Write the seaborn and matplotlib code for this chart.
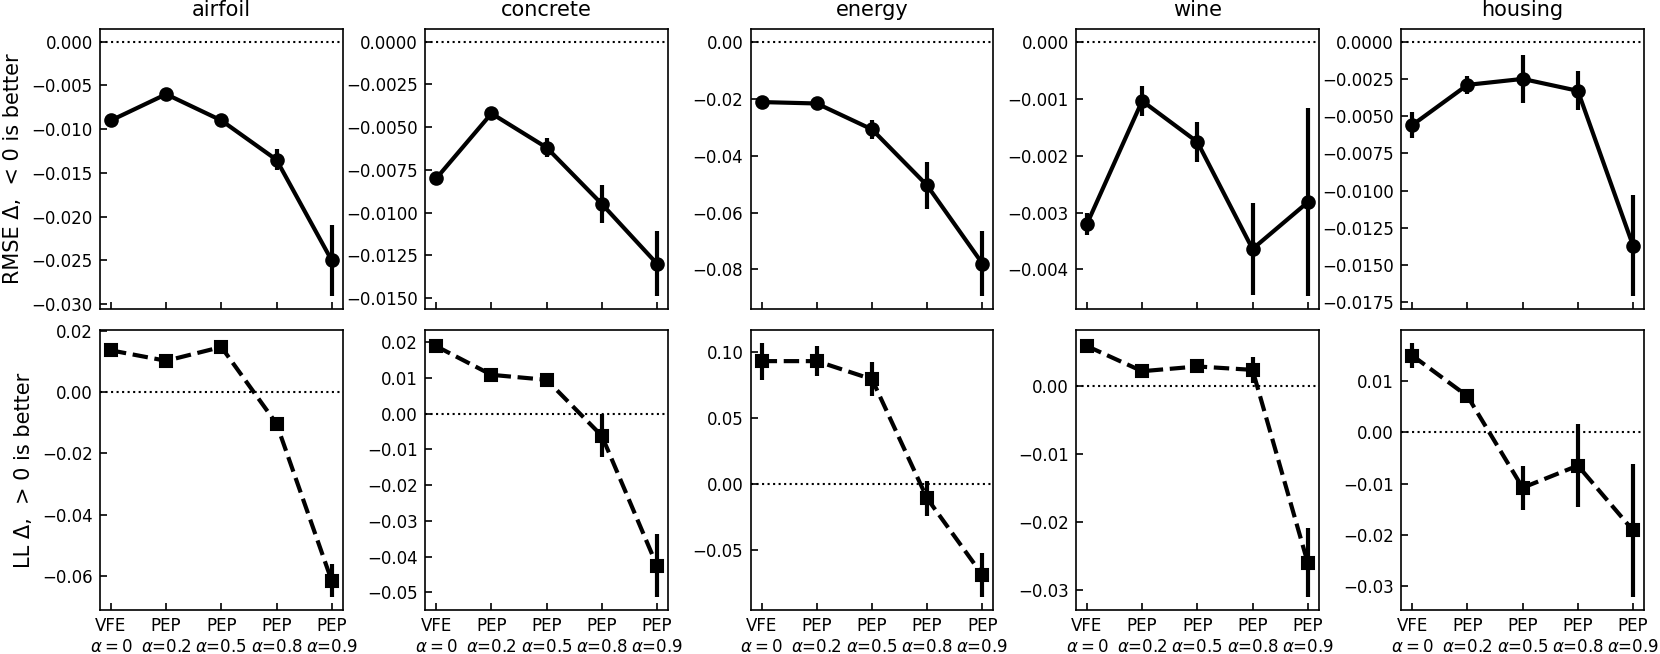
import matplotlib
matplotlib.use("Agg")
import matplotlib.pyplot as plt
import seaborn as sns
import numpy as np
import pandas as pd

datasets = ["airfoil", "concrete", "energy", "wine", "housing"]
x_pos = [0, 1, 2, 3, 4]
x_labels = ["VFE\n$\\alpha=0$", "PEP\n$\\alpha$=0.2", "PEP\n$\\alpha$=0.5",
            "PEP\n$\\alpha$=0.8", "PEP\n$\\alpha$=0.9"]

# RMSE delta (mean) and error bars
rmse_airfoil = [-0.0090, -0.0060, -0.0090, -0.0135, -0.0250]
rmse_airfoil_err = [0.0003, 0.0003, 0.0003, 0.0012, 0.0041]
rmse_concrete = [-0.0080, -0.0042, -0.0062, -0.0095, -0.0130]
rmse_concrete_err = [0.0002, 0.0002, 0.00055, 0.0011, 0.0019]
rmse_energy = [-0.0212, -0.0217, -0.0308, -0.0505, -0.0779]
rmse_energy_err = [0.0008, 0.0008, 0.0032, 0.0082, 0.0115]
rmse_wine = [-0.0032, -0.00104, -0.00176, -0.00364, -0.00282]
rmse_wine_err = [0.0002, 0.00026, 0.00035, 0.0008, 0.00165]
rmse_housing = [-0.0056, -0.0029, -0.0025, -0.0033, -0.0137]
rmse_housing_err = [0.00086, 0.0006, 0.0016, 0.0013, 0.0034]

# LL delta (mean) and error bars
ll_airfoil = [0.0136, 0.0102, 0.0147, -0.0103, -0.0615]
ll_airfoil_err = [0.0008, 0.0008, 0.0014, 0.0022, 0.0054]
ll_concrete = [0.0189, 0.0109, 0.0095, -0.0062, -0.0426]
ll_concrete_err = [0.0010, 0.0006, 0.0006, 0.0060, 0.0088]
ll_energy = [0.0934, 0.0934, 0.0796, -0.0110, -0.0691]
ll_energy_err = [0.014, 0.0115, 0.0128, 0.013, 0.017]
ll_wine = [0.0059, 0.0022, 0.0029, 0.0024, -0.0260]
ll_wine_err = [0.0005, 0.0003, 0.0003, 0.0019, 0.0051]
ll_housing = [0.0149, 0.0070, -0.0108, -0.0065, -0.0191]
ll_housing_err = [0.0025, 0.0005, 0.0043, 0.0080, 0.0130]

rmse = [rmse_airfoil, rmse_concrete, rmse_energy, rmse_wine, rmse_housing]
rmse_err = [rmse_airfoil_err, rmse_concrete_err, rmse_energy_err, rmse_wine_err, rmse_housing_err]
ll = [ll_airfoil, ll_concrete, ll_energy, ll_wine, ll_housing]
ll_err = [ll_airfoil_err, ll_concrete_err, ll_energy_err, ll_wine_err, ll_housing_err]

plt.rcParams.update({
    "font.family": ["DejaVu Sans"],
    "font.size": 8,
    "axes.titlesize": 10,
    "axes.labelsize": 10,
    "xtick.labelsize": 8,
    "ytick.labelsize": 8,
    "xtick.direction": "in",
    "ytick.direction": "in",
    "axes.linewidth": 0.8,
})

fig, axes = plt.subplots(2, 5, figsize=(1660 / 150, 654 / 150), dpi=150)
fig.subplots_adjust(left=0.0602, right=0.9904, top=0.9557, bottom=0.0673,
                    wspace=0.34, hspace=0.075)

rows = [(rmse, rmse_err, "o", "-", "RMSE Δ,  < 0 is better"),
        (ll, ll_err, "s", "--", "LL Δ,  > 0 is better")]

for r, (vals, errs, mk, ls, ylab) in enumerate(rows):
    for c, name in enumerate(datasets):
        ax = axes[r, c]
        df = pd.DataFrame({"x": x_pos, "y": vals[c], "err": errs[c]})
        ax.axhline(0, color="k", linestyle=":", linewidth=1.0, zorder=1)
        sns.lineplot(data=df, x="x", y="y", ax=ax, color="k", marker=mk,
                     markersize=6, markeredgecolor="k", markeredgewidth=1,
                     linewidth=2, linestyle=ls, errorbar=None, zorder=3)
        ax.errorbar(df["x"], df["y"], yerr=df["err"], fmt="none",
                    ecolor="k", elinewidth=2, capsize=0, zorder=3)
        ax.set_xticks(x_pos)
        if r == 1:
            ax.set_xticklabels(x_labels)
        else:
            ax.set_xticklabels([])
            ax.set_title(name)
        ax.set_xlabel("")
        ax.set_ylabel(ylab if c == 0 else "")

fig.savefig("out.png", dpi=150)
